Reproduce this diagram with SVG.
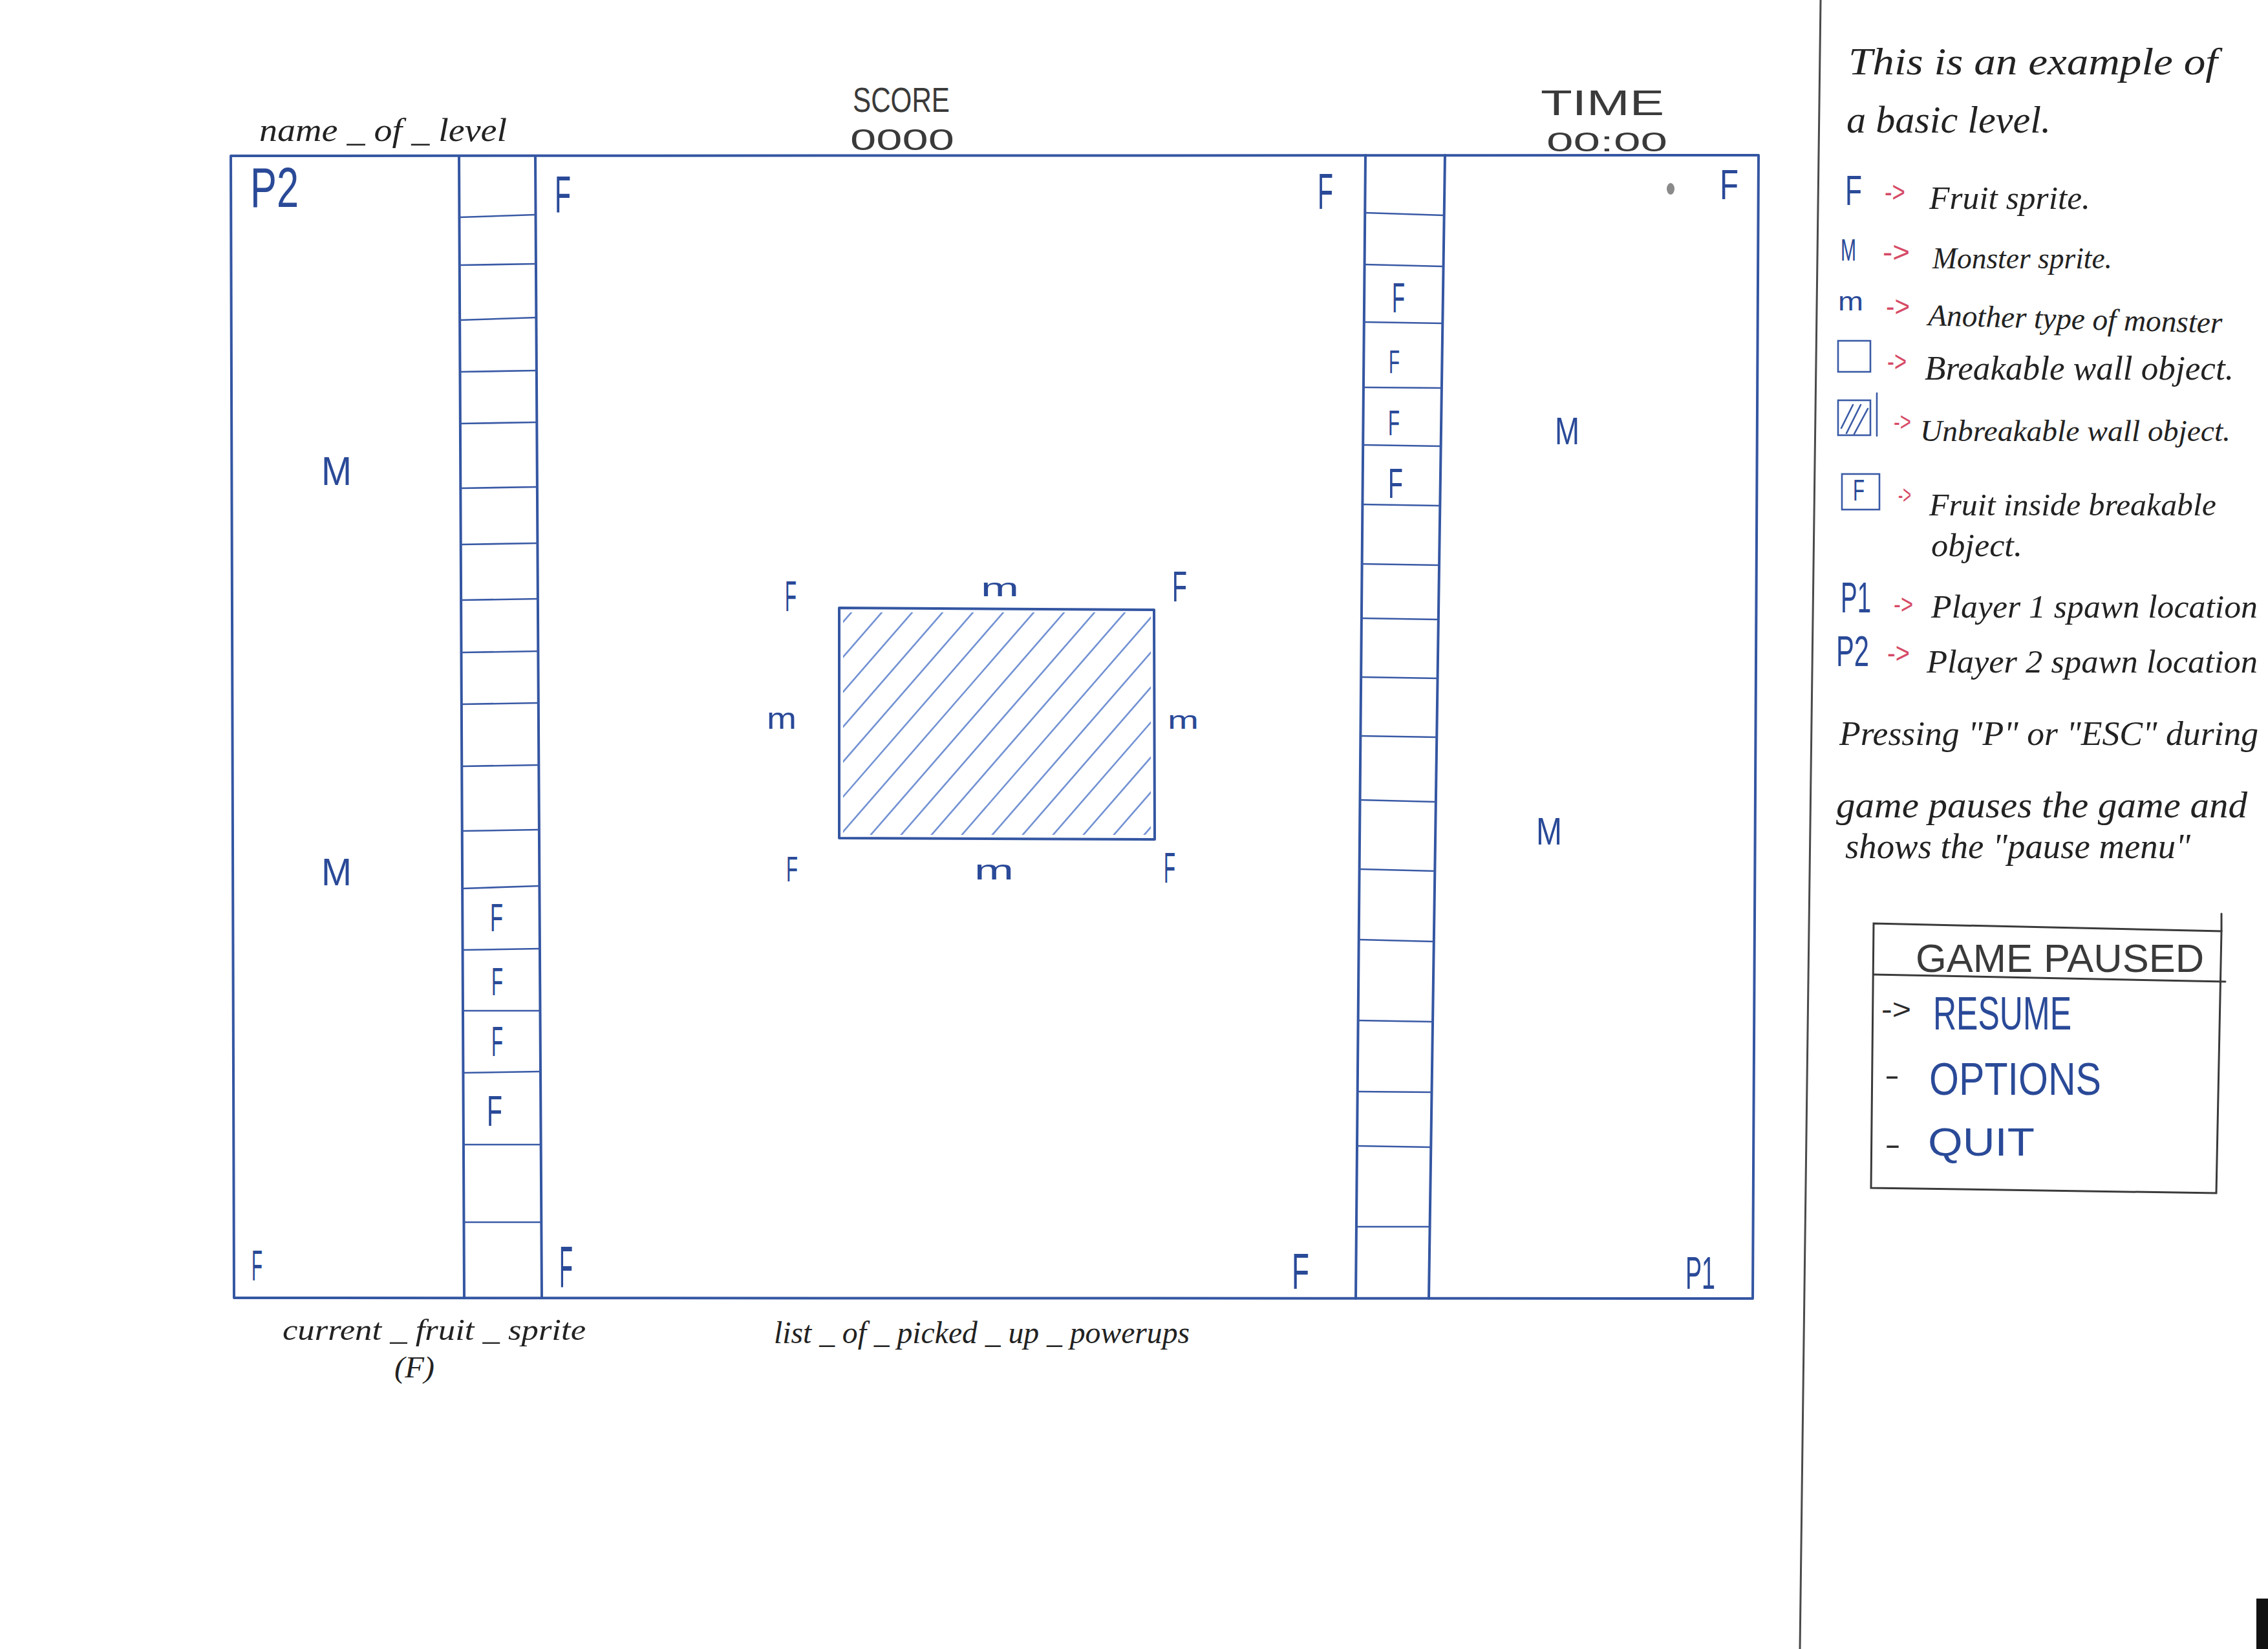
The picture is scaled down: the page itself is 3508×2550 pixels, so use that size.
<svg xmlns="http://www.w3.org/2000/svg" width="3508" height="2550" viewBox="0 0 3508 2550">
<style>
.ink{stroke:#3456a2;stroke-width:4;fill:none;stroke-linecap:round;stroke-linejoin:round}
.cell{stroke:#3a5aa6;stroke-width:2.6;fill:none;stroke-linecap:round}
.hatch{stroke:#5b7fcc;stroke-width:2.6;fill:none;stroke-linecap:round;opacity:.85}
.pen{stroke:#3a3a3a;stroke-width:3;fill:none;stroke-linecap:round}
.blue{fill:#2a4a98;font-family:"Liberation Sans",Arial,sans-serif}
.caps{fill:#3a3a3a;font-family:"Liberation Sans",Arial,sans-serif}
.hand{fill:#222;font-family:"Liberation Serif","Times New Roman",serif;font-style:italic}
.red{fill:#d64a66;font-family:"Liberation Sans",Arial,sans-serif}
.dark{fill:#2b2b2b;font-family:"Liberation Sans",Arial,sans-serif}
</style>
<defs>
<clipPath id="boxclip"><rect x="1304" y="947" width="476" height="344"/></clipPath>
</defs>
<rect x="0" y="0" width="3508" height="2550" fill="#ffffff"/>

<g id="level-frame">
<polygon class="ink" points="357,241 2720,240 2711,2008 362,2007"/>
</g>

<g id="left-column">
<line class="ink" x1="710" y1="241" x2="718" y2="2007"/>
<line class="ink" x1="828" y1="241" x2="838" y2="2007"/>
<g class="cell">
<line x1="710" y1="336" x2="829" y2="332"/>
<line x1="711" y1="410" x2="829" y2="408"/>
<line x1="711" y1="495" x2="830" y2="491"/>
<line x1="712" y1="575" x2="830" y2="573"/>
<line x1="712" y1="655" x2="830" y2="653"/>
<line x1="712" y1="755" x2="831" y2="753"/>
<line x1="713" y1="842" x2="831" y2="840"/>
<line x1="713" y1="928" x2="832" y2="926"/>
<line x1="713" y1="1009" x2="832" y2="1007"/>
<line x1="714" y1="1089" x2="833" y2="1087"/>
<line x1="714" y1="1185" x2="833" y2="1183"/>
<line x1="715" y1="1285" x2="834" y2="1283"/>
<line x1="715" y1="1374" x2="834" y2="1370"/>
<line x1="716" y1="1469" x2="835" y2="1467"/>
<line x1="716" y1="1563" x2="835" y2="1563"/>
<line x1="716" y1="1659" x2="836" y2="1657"/>
<line x1="717" y1="1770" x2="837" y2="1770"/>
<line x1="717" y1="1890" x2="837" y2="1890"/>
</g>
</g>

<g id="right-column">
<line class="ink" x1="2112" y1="240" x2="2097" y2="2008"/>
<line class="ink" x1="2235" y1="240" x2="2210" y2="2008"/>
<g class="cell">
<line x1="2111" y1="329" x2="2234" y2="333"/>
<line x1="2111" y1="409" x2="2233" y2="412"/>
<line x1="2110" y1="498" x2="2231" y2="500"/>
<line x1="2109" y1="599" x2="2230" y2="600"/>
<line x1="2108" y1="688" x2="2229" y2="690"/>
<line x1="2107" y1="780" x2="2227" y2="782"/>
<line x1="2106" y1="872" x2="2226" y2="874"/>
<line x1="2106" y1="956" x2="2225" y2="958"/>
<line x1="2105" y1="1047" x2="2224" y2="1049"/>
<line x1="2104" y1="1138" x2="2222" y2="1140"/>
<line x1="2104" y1="1237" x2="2221" y2="1240"/>
<line x1="2103" y1="1344" x2="2219" y2="1347"/>
<line x1="2102" y1="1453" x2="2218" y2="1456"/>
<line x1="2101" y1="1578" x2="2216" y2="1580"/>
<line x1="2100" y1="1688" x2="2215" y2="1689"/>
<line x1="2099" y1="1772" x2="2213" y2="1774"/>
<line x1="2098" y1="1897" x2="2212" y2="1897"/>
</g>
</g>

<g id="unbreakable-block">
<polygon class="ink" points="1298,940 1785,943 1786,1298 1298,1296"/>
<g clip-path="url(#boxclip)" class="hatch">
<line x1="1010" y1="1300" x2="1323" y2="940"/>
<line x1="1057" y1="1300" x2="1370" y2="940"/>
<line x1="1104" y1="1300" x2="1417" y2="940"/>
<line x1="1151" y1="1300" x2="1464" y2="940"/>
<line x1="1198" y1="1300" x2="1511" y2="940"/>
<line x1="1245" y1="1300" x2="1558" y2="940"/>
<line x1="1292" y1="1300" x2="1605" y2="940"/>
<line x1="1339" y1="1300" x2="1652" y2="940"/>
<line x1="1386" y1="1300" x2="1699" y2="940"/>
<line x1="1433" y1="1300" x2="1746" y2="940"/>
<line x1="1480" y1="1300" x2="1793" y2="940"/>
<line x1="1527" y1="1300" x2="1840" y2="940"/>
<line x1="1574" y1="1300" x2="1887" y2="940"/>
<line x1="1621" y1="1300" x2="1934" y2="940"/>
<line x1="1668" y1="1300" x2="1981" y2="940"/>
<line x1="1715" y1="1300" x2="2028" y2="940"/>
<line x1="1762" y1="1300" x2="2075" y2="940"/>
</g>
</g>

<g id="hud">
<text class="hand" x="401" y="218" font-size="50" textLength="383" lengthAdjust="spacingAndGlyphs">name _ of _ level</text>
<text class="caps" x="1319" y="173" font-size="53" textLength="150" lengthAdjust="spacingAndGlyphs">SCORE</text>
<text class="caps" x="1315" y="232" font-size="46" textLength="161" lengthAdjust="spacingAndGlyphs">0000</text>
<text class="caps" x="2383" y="178" font-size="56" textLength="191" lengthAdjust="spacingAndGlyphs">TIME</text>
<text class="caps" x="2392" y="234" font-size="43" textLength="187" lengthAdjust="spacingAndGlyphs">00:00</text>
<text class="hand" x="437" y="2072" font-size="46" textLength="469" lengthAdjust="spacingAndGlyphs">current _ fruit _ sprite</text>
<text class="hand" x="610" y="2130" font-size="46" textLength="62" lengthAdjust="spacingAndGlyphs">(F)</text>
<text class="hand" x="1197" y="2077" font-size="48" textLength="643" lengthAdjust="spacingAndGlyphs">list _ of _ picked _ up _ powerups</text>
</g>

<g id="sprites">
<text class="blue" x="387" y="320" font-size="87" textLength="75" lengthAdjust="spacingAndGlyphs">P2</text>
<text class="blue" x="2607" y="1993" font-size="70" textLength="46" lengthAdjust="spacingAndGlyphs">P1</text>
<text class="blue" x="858" y="328" font-size="80" textLength="25" lengthAdjust="spacingAndGlyphs">F</text>
<text class="blue" x="2038" y="323" font-size="78" textLength="24" lengthAdjust="spacingAndGlyphs">F</text>
<text class="blue" x="2660" y="308" font-size="64" textLength="29" lengthAdjust="spacingAndGlyphs">F</text>
<text class="blue" x="758" y="1440" font-size="61" textLength="20" lengthAdjust="spacingAndGlyphs">F</text>
<text class="blue" x="760" y="1539" font-size="61" textLength="18" lengthAdjust="spacingAndGlyphs">F</text>
<text class="blue" x="760" y="1633" font-size="64" textLength="18" lengthAdjust="spacingAndGlyphs">F</text>
<text class="blue" x="753" y="1741" font-size="67" textLength="24" lengthAdjust="spacingAndGlyphs">F</text>
<text class="blue" x="2153" y="483" font-size="64" textLength="20" lengthAdjust="spacingAndGlyphs">F</text>
<text class="blue" x="2148" y="577" font-size="50" textLength="17" lengthAdjust="spacingAndGlyphs">F</text>
<text class="blue" x="2147" y="673" font-size="56" textLength="18" lengthAdjust="spacingAndGlyphs">F</text>
<text class="blue" x="2147" y="770" font-size="64" textLength="23" lengthAdjust="spacingAndGlyphs">F</text>
<text class="blue" x="1214" y="945" font-size="67" textLength="18" lengthAdjust="spacingAndGlyphs">F</text>
<text class="blue" x="1813" y="930" font-size="66" textLength="23" lengthAdjust="spacingAndGlyphs">F</text>
<text class="blue" x="1216" y="1363" font-size="56" textLength="18" lengthAdjust="spacingAndGlyphs">F</text>
<text class="blue" x="1800" y="1365" font-size="66" textLength="18" lengthAdjust="spacingAndGlyphs">F</text>
<text class="blue" x="389" y="1980" font-size="67" textLength="17" lengthAdjust="spacingAndGlyphs">F</text>
<text class="blue" x="865" y="1990" font-size="90" textLength="21" lengthAdjust="spacingAndGlyphs">F</text>
<text class="blue" x="1998" y="1993" font-size="78" textLength="27" lengthAdjust="spacingAndGlyphs">F</text>
<text class="blue" x="497" y="750" font-size="63" textLength="47" lengthAdjust="spacingAndGlyphs">M</text>
<text class="blue" x="497" y="1369" font-size="59" textLength="47" lengthAdjust="spacingAndGlyphs">M</text>
<text class="blue" x="2405" y="687" font-size="60" textLength="38" lengthAdjust="spacingAndGlyphs">M</text>
<text class="blue" x="2376" y="1306" font-size="59" textLength="40" lengthAdjust="spacingAndGlyphs">M</text>
<text class="blue" x="1517" y="922" font-size="38" textLength="59" lengthAdjust="spacingAndGlyphs">m</text>
<text class="blue" x="1186" y="1127" font-size="46" textLength="46" lengthAdjust="spacingAndGlyphs">m</text>
<text class="blue" x="1806" y="1127" font-size="38" textLength="48" lengthAdjust="spacingAndGlyphs">m</text>
<text class="blue" x="1507" y="1360" font-size="42" textLength="61" lengthAdjust="spacingAndGlyphs">m</text>
<ellipse cx="2584" cy="292" rx="6" ry="9" fill="#8a8a8a"/>
</g>

<g id="separator">
<line x1="2816" y1="0" x2="2784" y2="2550" stroke="#4a4a4a" stroke-width="3"/>
<rect x="3490" y="2472" width="18" height="78" fill="#111"/>
</g>

<g id="legend">
<text class="hand" x="2859" y="115" font-size="60" textLength="571" lengthAdjust="spacingAndGlyphs">This is an example of</text>
<text class="hand" x="2856" y="205" font-size="60" textLength="316" lengthAdjust="spacingAndGlyphs">a basic level.</text>

<text class="blue" x="2854" y="317" font-size="64" textLength="26" lengthAdjust="spacingAndGlyphs">F</text>
<text class="red" x="2915" y="312" font-size="44" textLength="32" lengthAdjust="spacingAndGlyphs">-&gt;</text>
<text class="hand" x="2984" y="323" font-size="51" textLength="249" lengthAdjust="spacingAndGlyphs">Fruit sprite.</text>

<text class="blue" x="2847" y="403" font-size="48" textLength="24" lengthAdjust="spacingAndGlyphs">M</text>
<text class="red" x="2912" y="405" font-size="44" textLength="42" lengthAdjust="spacingAndGlyphs">-&gt;</text>
<text class="hand" x="2989" y="415" font-size="47" textLength="278" lengthAdjust="spacingAndGlyphs">Monster sprite.</text>

<text class="blue" x="2843" y="480" font-size="40" textLength="39" lengthAdjust="spacingAndGlyphs">m</text>
<text class="red" x="2917" y="489" font-size="44" textLength="37" lengthAdjust="spacingAndGlyphs">-&gt;</text>
<text class="hand" x="2982" y="503" font-size="47" textLength="455" lengthAdjust="spacingAndGlyphs" transform="rotate(1.5 2982 503)">Another type of monster</text>

<rect x="2843" y="527" width="50" height="48" class="cell" stroke-width="3.5"/>
<text class="red" x="2919" y="574" font-size="44" textLength="30" lengthAdjust="spacingAndGlyphs">-&gt;</text>
<text class="hand" x="2977" y="587" font-size="52" textLength="478" lengthAdjust="spacingAndGlyphs">Breakable wall object.</text>

<g class="cell" stroke-width="3.5">
<rect x="2843" y="619" width="50" height="54"/>
<line x1="2903" y1="608" x2="2903" y2="674"/>
</g>
<g class="cell">
<line x1="2848" y1="662" x2="2866" y2="626"/>
<line x1="2856" y1="670" x2="2878" y2="626"/>
<line x1="2868" y1="671" x2="2889" y2="632"/>
</g>
<text class="red" x="2929" y="666" font-size="40" textLength="27" lengthAdjust="spacingAndGlyphs">-&gt;</text>
<text class="hand" x="2970" y="682" font-size="47" textLength="480" lengthAdjust="spacingAndGlyphs">Unbreakable wall object.</text>

<rect x="2849" y="733" width="58" height="55" class="cell" stroke-width="3.5"/>
<text class="blue" x="2866" y="774" font-size="47" textLength="18" lengthAdjust="spacingAndGlyphs">F</text>
<text class="red" x="2936" y="779" font-size="40" textLength="20" lengthAdjust="spacingAndGlyphs">-&gt;</text>
<text class="hand" x="2984" y="797" font-size="49" textLength="444" lengthAdjust="spacingAndGlyphs">Fruit inside breakable</text>
<text class="hand" x="2987" y="860" font-size="50" textLength="141" lengthAdjust="spacingAndGlyphs">object.</text>

<text class="blue" x="2847" y="947" font-size="66" textLength="47" lengthAdjust="spacingAndGlyphs">P1</text>
<text class="red" x="2929" y="949" font-size="42" textLength="30" lengthAdjust="spacingAndGlyphs">-&gt;</text>
<text class="hand" x="2987" y="955" font-size="51" textLength="505" lengthAdjust="spacingAndGlyphs">Player 1 spawn location</text>

<text class="blue" x="2840" y="1030" font-size="66" textLength="51" lengthAdjust="spacingAndGlyphs">P2</text>
<text class="red" x="2919" y="1025" font-size="44" textLength="35" lengthAdjust="spacingAndGlyphs">-&gt;</text>
<text class="hand" x="2980" y="1040" font-size="51" textLength="512" lengthAdjust="spacingAndGlyphs">Player 2 spawn location</text>

<text class="hand" x="2845" y="1152" font-size="52" textLength="648" lengthAdjust="spacingAndGlyphs">Pressing "P" or "ESC" during</text>
<text class="hand" x="2840" y="1264" font-size="57" textLength="636" lengthAdjust="spacingAndGlyphs">game pauses the game and</text>
<text class="hand" x="2854" y="1327" font-size="54" textLength="534" lengthAdjust="spacingAndGlyphs">shows the "pause menu"</text>
</g>

<g id="pause-menu">
<polygon class="pen" points="2898,1428 3436,1440 3428,1845 2894,1837"/>
<line class="pen" x1="3436" y1="1413" x2="3436" y2="1440"/>
<line class="pen" x1="2898" y1="1507" x2="3442" y2="1518"/>
<text class="caps" x="2963" y="1503" font-size="62" textLength="446" lengthAdjust="spacingAndGlyphs">GAME PAUSED</text>
<text class="dark" x="2910" y="1576" font-size="44" textLength="46" lengthAdjust="spacingAndGlyphs">-&gt;</text>
<text class="blue" x="2990" y="1592" font-size="72" textLength="214" lengthAdjust="spacingAndGlyphs">RESUME</text>
<text class="dark" x="2915" y="1678" font-size="44" textLength="23" lengthAdjust="spacingAndGlyphs">-</text>
<text class="blue" x="2984" y="1693" font-size="71" textLength="266" lengthAdjust="spacingAndGlyphs">OPTIONS</text>
<text class="dark" x="2915" y="1785" font-size="44" textLength="25" lengthAdjust="spacingAndGlyphs">-</text>
<text class="blue" x="2982" y="1787" font-size="62" textLength="165" lengthAdjust="spacingAndGlyphs">QUIT</text>
</g>
</svg>
